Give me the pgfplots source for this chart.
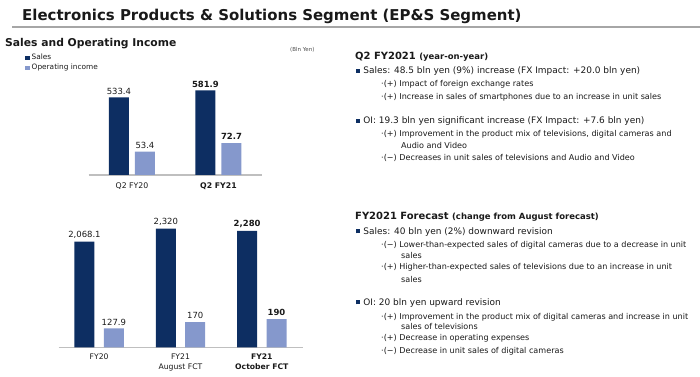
\documentclass[border=0pt]{standalone}
\usepackage{fontspec}
\setmainfont{DejaVu Sans}
\usepackage{pgfplots}
\pgfplotsset{compat=1.18}
\definecolor{navy}{RGB}{13,46,98}
\definecolor{lblue}{RGB}{133,152,204}
\definecolor{txt}{RGB}{25,25,25}
\newcommand{\fs}[1]{\fontsize{#1}{#1}\selectfont}
\newcommand{\bul}{\textcolor{navy}{\rule[0.6bp]{4.2bp}{4.2bp}}}
\begin{document}
\begin{tikzpicture}[x=1bp,y=1bp]
\path[use as bounding box] (0,0) rectangle (700,376);
% title
\node[anchor=base west, inner sep=0, font=\fs{15}\bfseries, text=txt] at (22,{376-20.5}) {Electronics Products \& Solutions Segment (EP\&S Segment)};
\draw[gray!70, line width=1.1bp] (12,{376-27}) -- (700,{376-27});
\node[anchor=base west, inner sep=0, font=\fs{10.8}\bfseries, text=txt] at (5,{376-46}) {Sales and Operating Income};
% legend
\fill[navy] (25,{376-60}) rectangle (29.5,{376-55.5});
\fill[lblue] (25,{376-70}) rectangle (29.5,{376-65.5});
\node[anchor=base west, inner sep=0, font=\fs{7.4}, text=txt] at (31.5,{376-59.8}) {Sales};
\node[anchor=base west, inner sep=0, font=\fs{7.4}, text=txt] at (31.5,{376-69.8}) {Operating income};
\node[anchor=base west, inner sep=0, font=\fs{5.5}, text=black!70] at (290,{376-51}) {(Bln Yen)};

% ---------- top chart: sales
\begin{axis}[at={(88.7bp,201bp)}, anchor=south west, scale only axis,
  width=173bp, height=90bp, xmin=-0.5, xmax=1.5, ymin=0, ymax=619,
  axis x line*=bottom, axis y line=none,
  x axis line style={draw=black!25, line width=1.2bp},
  xtick={0,1}, xticklabels={Q2 FY20,\textbf{Q2 FY21}}, major tick length=0pt,
  xticklabel style={font=\fs{7.8}, text=txt, inner sep=0pt, yshift=-7.5bp},
  ytick=\empty, clip=false,
  point meta=explicit symbolic,
  nodes near coords,
  every node near coord/.append style={font=\fs{8.5}, text=txt, inner sep=0pt, yshift=3bp, xshift=-13bp}]
\addplot[ybar, bar width=20bp, bar shift=-13bp, fill=navy, draw=none]
  coordinates {(0,533.4) [533.4] (1,581.9) [\textbf{581.9}]};
\end{axis}
% ---------- top chart: operating income
\begin{axis}[at={(88.7bp,201bp)}, anchor=south west, scale only axis,
  width=173bp, height=90bp, xmin=-0.5, xmax=1.5, ymin=0, ymax=205.5,
  axis lines=none, xtick=\empty, ytick=\empty, clip=false,
  point meta=explicit symbolic,
  nodes near coords,
  every node near coord/.append style={font=\fs{8.5}, text=txt, inner sep=0pt, yshift=3bp, xshift=13bp}]
\addplot[ybar, bar width=20bp, bar shift=13bp, fill=lblue, draw=none]
  coordinates {(0,53.4) [53.4] (1,72.7) [\textbf{72.7}]};
\end{axis}

% ---------- bottom chart: sales
\begin{axis}[at={(58.5bp,28.7bp)}, anchor=south west, scale only axis,
  width=244bp, height=120bp, xmin=-0.5, xmax=2.5, ymin=0, ymax=2348,
  axis x line*=bottom, axis y line=none,
  x axis line style={draw=black!25, line width=1.2bp},
  xtick={0,1,2}, xticklabels={FY20,{FY21\\August FCT},{\textbf{FY21}\\\textbf{October FCT}}},
  major tick length=0pt,
  xticklabel style={font=\fontsize{7.7}{10}\selectfont, text=txt, inner sep=0pt, yshift=-6.5bp, align=center, text depth=0pt},
  ytick=\empty, clip=false,
  point meta=explicit symbolic,
  nodes near coords,
  every node near coord/.append style={font=\fs{8.5}, text=txt, inner sep=0pt, yshift=3bp, xshift=-14.7bp}]
\addplot[ybar, bar width=20bp, bar shift=-14.7bp, fill=navy, draw=none]
  coordinates {(0,2068.1) [{2,068.1}] (1,2320) [{2,320}] (2,2280) [\textbf{2,280}]};
\end{axis}
% ---------- bottom chart: operating income
\begin{axis}[at={(58.5bp,28.7bp)}, anchor=south west, scale only axis,
  width=244bp, height=120bp, xmin=-0.5, xmax=2.5, ymin=0, ymax=811,
  axis lines=none, xtick=\empty, ytick=\empty, clip=false,
  point meta=explicit symbolic,
  nodes near coords,
  every node near coord/.append style={font=\fs{8.5}, text=txt, inner sep=0pt, yshift=3bp, xshift=14.7bp}]
\addplot[ybar, bar width=20bp, bar shift=14.7bp, fill=lblue, draw=none]
  coordinates {(0,127.9) [127.9] (1,170) [170] (2,190) [\textbf{190}]};
\end{axis}

% ---------- right text, top
\begin{scope}[every node/.style={anchor=base west, inner sep=0, text=txt}]
\node[font=\fs{10}\bfseries] at (355,{376-59}) {Q2 FY2021 {\fs{8.5}(year-on-year)}};
\node[font=\fs{9}] at (356,{376-73.3}) {\bul\hspace{3bp}Sales: 48.5 bln yen (9\%) increase (FX Impact: +20.0 bln yen)};
\node[font=\fs{8.1}] at (381,{376-86.3}) {·(+) Impact of foreign exchange rates};
\node[font=\fs{8.1}] at (381,{376-99}) {·(+) Increase in sales of smartphones due to an increase in unit sales};
\node[font=\fs{9}] at (356,{376-123.3}) {\bul\hspace{3bp}OI: 19.3 bln yen significant increase (FX Impact: +7.6 bln yen)};
\node[font=\fs{8.1}] at (381,{376-136}) {·(+) Improvement in the product mix of televisions, digital cameras and};
\node[font=\fs{8.1}] at (401,{376-148}) {Audio and Video};
\node[font=\fs{8.1}] at (381,{376-160.7}) {·(−) Decreases in unit sales of televisions and Audio and Video};
% bottom
\node[font=\fs{10}\bfseries] at (355,{376-219.5}) {FY2021 Forecast {\fs{8.5}(change from August forecast)}};
\node[font=\fs{9}] at (356,{376-234}) {\bul\hspace{3bp}Sales: 40 bln yen (2\%) downward revision};
\node[font=\fs{8.1}] at (381,{376-247.3}) {·(−) Lower-than-expected sales of digital cameras due to a decrease in unit};
\node[font=\fs{8.1}] at (401,{376-258}) {sales};
\node[font=\fs{8.1}] at (381,{376-269.7}) {·(+) Higher-than-expected sales of televisions due to an increase in unit};
\node[font=\fs{8.1}] at (401,{376-282}) {sales};
\node[font=\fs{9}] at (356,{376-305}) {\bul\hspace{3bp}OI: 20 bln yen upward revision};
\node[font=\fs{8.1}] at (381,{376-319.7}) {·(+) Improvement in the product mix of digital cameras and increase in unit};
\node[font=\fs{8.1}] at (401,{376-329.7}) {sales of televisions};
\node[font=\fs{8.1}] at (381,{376-340.7}) {·(+) Decrease in operating expenses};
\node[font=\fs{8.1}] at (381,{376-353}) {·(−) Decrease in unit sales of digital cameras};
\end{scope}
\end{tikzpicture}
\end{document}
